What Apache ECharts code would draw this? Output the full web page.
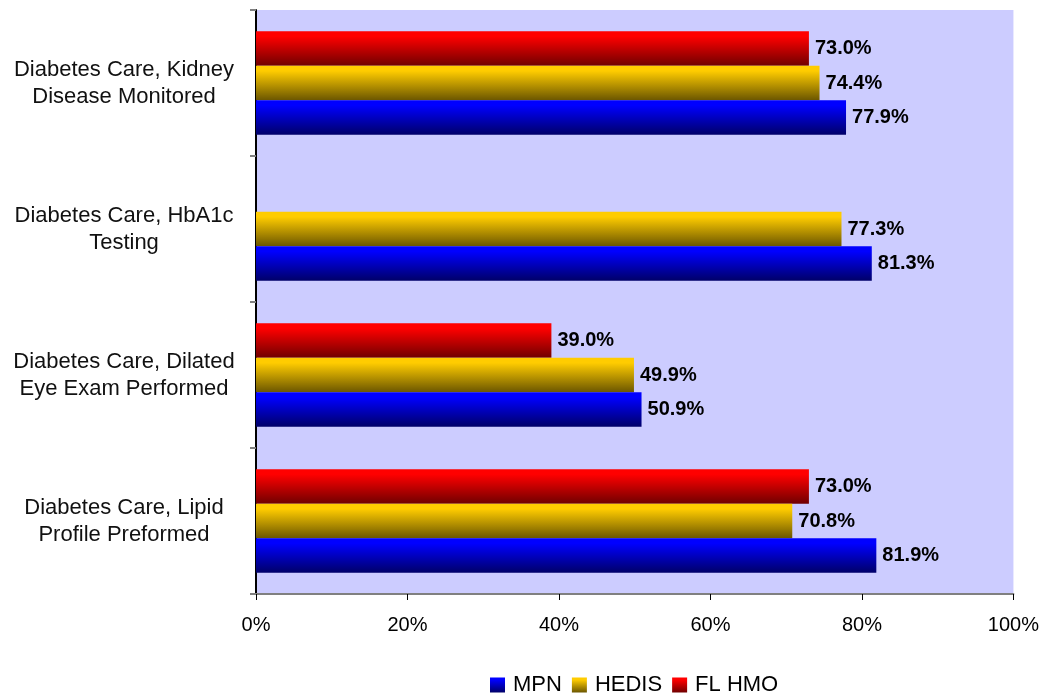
<!DOCTYPE html>
<html>
<head>
<meta charset="utf-8">
<script src="https://cdn.jsdelivr.net/npm/echarts@6/dist/echarts.min.js"></script>
<style>
  html, body { margin: 0; padding: 0; background: #ffffff; }
  #chart { width: 1042px; height: 694px; }
</style>
</head>
<body>
<div id="chart"></div>
<script>
// Measures, listed bottom to top as the category axis draws them
const categories = [
  'Diabetes Care, Lipid\nProfile Preformed',
  'Diabetes Care, Dilated\nEye Exam Performed',
  'Diabetes Care, HbA1c\nTesting',
  'Diabetes Care, Kidney\nDisease Monitored'
];
const mpn = [81.9, 50.9, 81.3, 77.9];
const hedis = [70.8, 49.9, 77.3, 74.4];
const flHmo = [73.0, 39.0, null, 73.0];
const legendNames = ['MPN', 'HEDIS', 'FL HMO'];
const xTicks = [0, 20, 40, 60, 80, 100];

const FONT = '"Liberation Sans", Arial, sans-serif';

function grad(top, bottom) {
  return new echarts.graphic.LinearGradient(0, 0, 0, 1, [
    { offset: 0, color: top },
    { offset: 0.15, color: top },
    { offset: 1, color: bottom }
  ]);
}

const fills = {
  'MPN': grad('#0000ff', '#000068'),
  'HEDIS': grad('#ffcc00', '#6b5600'),
  'FL HMO': grad('#ff0000', '#700000')
};

function barSeries(name, values) {
  return {
    name: name,
    type: 'bar',
    data: values,
    barGap: '0%',
    barCategoryGap: '29%',
    itemStyle: { color: fills[name] },
    label: {
      show: true,
      position: 'right',
      distance: 6,
      fontFamily: FONT,
      fontSize: 20,
      fontWeight: 'bold',
      color: '#000000',
      formatter: p => p.value.toFixed(1) + '%'
    }
  };
}

const chart = echarts.init(document.getElementById('chart'), null, { renderer: 'canvas' });
chart.setOption({
  animation: false,
  backgroundColor: '#ffffff',
  textStyle: { fontFamily: FONT },
  grid: {
    left: 256, right: 28, top: 10, bottom: 100,
    show: true, backgroundColor: '#ccccff', borderWidth: 0
  },
  legend: {
    data: legendNames,
    top: 669,
    left: 485,
    itemWidth: 15,
    itemHeight: 15,
    itemGap: 10,
    icon: 'rect',
    textStyle: { fontFamily: FONT, fontSize: 22, color: '#000000', padding: [0, 0, 0, 3] }
  },
  xAxis: {
    type: 'value',
    min: xTicks[0],
    max: xTicks[xTicks.length - 1],
    interval: 20,
    splitLine: { show: false },
    axisLine: { show: true, lineStyle: { color: '#808080', width: 2 } },
    axisTick: { show: true, length: 6, lineStyle: { color: '#000000', width: 1 } },
    axisLabel: {
      margin: 21,
      fontFamily: FONT,
      fontSize: 20,
      color: '#000000',
      formatter: v => v + '%'
    }
  },
  yAxis: {
    type: 'category',
    data: categories,
    axisLine: { show: true, lineStyle: { color: '#000000', width: 2 } },
    axisTick: { show: true, length: 6, lineStyle: { color: '#808080', width: 2 } },
    axisLabel: {
      margin: 132,
      align: 'center',
      fontFamily: FONT,
      fontSize: 22,
      lineHeight: 27,
      color: '#111111'
    }
  },
  // top-to-bottom within each group: FL HMO, HEDIS, MPN
  series: [
    barSeries('FL HMO', flHmo),
    barSeries('HEDIS', hedis),
    barSeries('MPN', mpn)
  ]
});
</script>
</body>
</html>
